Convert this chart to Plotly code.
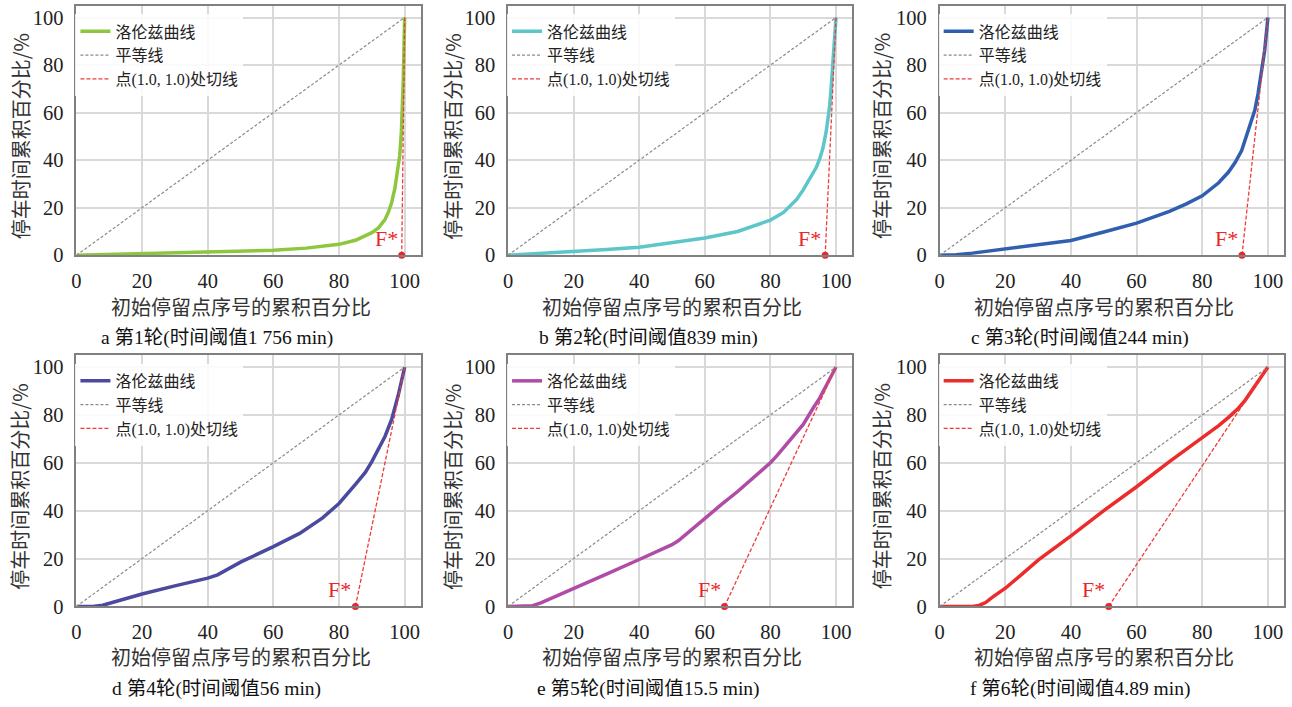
import plotly.graph_objects as go

W, H = 1292, 707

# ---------------- data ----------------
x_a = [0, 10, 20, 30, 40, 50, 60, 70, 80, 85, 88, 90, 92, 94, 95, 96, 97, 97.5, 98, 98.5, 99, 99.3, 99.6, 99.8, 100]
y_a = [0, 0.3, 0.6, 0.9, 1.2, 1.6, 2.1, 3.0, 4.6, 6.3, 8, 9.5, 11.5, 15, 18, 22, 28, 32, 37, 42, 52, 60, 75, 88, 100]

x_b = [0, 10, 20, 30, 40, 50, 60, 70, 80, 84, 86, 88, 90, 92, 94, 95, 96, 97, 97.5, 98, 98.5, 99, 99.5, 100]
y_b = [0, 0.7, 1.6, 2.4, 3.4, 5.2, 7.3, 10, 14.8, 18, 20.5, 23.5, 27.5, 32, 37, 40.5, 45, 52, 57, 62, 70, 80, 90, 100]

x_c = [0, 5, 10, 15, 20, 30, 40, 50, 60, 70, 75, 80, 85, 88, 90, 92, 94, 96, 97, 98, 99, 100]
y_c = [0, 0.2, 0.9, 1.8, 2.7, 4.5, 6.2, 9.8, 13.5, 18.5, 21.5, 25, 30.5, 35, 39, 44, 52, 61, 68, 76, 86, 100]

x_d = [0, 5, 8, 20, 30, 40, 43, 50, 60, 68, 75, 80, 85, 88, 90, 92, 94, 96, 98, 100]
y_d = [0, 0, 0.5, 5.2, 8.6, 11.8, 13.2, 18.5, 25, 30.5, 37, 43, 51, 56, 60.5, 65.5, 71, 78, 88, 100]

x_e = [0, 5, 7.5, 10, 20, 30, 40, 45, 50, 52, 55, 60, 65, 70, 75, 80, 82, 85, 90, 93, 95, 100]
y_e = [0, 0, 0.3, 1.5, 7.7, 13.5, 19.6, 22.7, 25.8, 27.5, 31, 36.8, 42.5, 48, 54, 60, 63, 68, 76, 82.8, 87, 100]

x_f = [0, 5, 10, 12, 14, 16, 20, 25, 30, 40, 50, 60, 70, 80, 85, 88, 91, 93, 95, 97, 100]
y_f = [0, 0, 0, 0.4, 1.6, 3.8, 7.6, 13.4, 19.3, 29.5, 40, 50, 60.5, 70.5, 75.5, 79, 82.8, 86, 90, 94, 100]

f_star = [99.1, 96.7, 92.1, 85.0, 66.0, 51.5]

captions = [
    "a 第1轮(时间阈值1 756 min)",
    "b 第2轮(时间阈值839 min)",
    "c 第3轮(时间阈值244 min)",
    "d 第4轮(时间阈值56 min)",
    "e 第5轮(时间阈值15.5 min)",
    "f 第6轮(时间阈值4.89 min)",
]
colors = ["#8dc63f", "#5cc6c8", "#2f5fae", "#4b4a9e", "#b04ca6", "#ec2b2b"]

legend_names = ["洛伦兹曲线", "平等线", "点(1.0, 1.0)处切线"]
tick_vals = [0, 20, 40, 60, 80, 100]
x_title = "初始停留点序号的累积百分比"
y_title = "停车时间累积百分比/%"

curves = [(x_a, y_a), (x_b, y_b), (x_c, y_c), (x_d, y_d), (x_e, y_e), (x_f, y_f)]

# ---------------- layout geometry (pixels) ----------------
cols_px = [(71.7, 417.7), (505.0, 850.7), (938.3, 1284.3)]
rows_px = [(5.7, 259.3), (360.7, 616.0)]
caption_x = [212.8, 646.3, 1079.3]
caption_y = [343.5, 699.5]
xtitle_y = [311.5, 667.0]
ytitle_x = [15.0, 449.0, 880.0]

FONT = "Liberation Serif, Noto Sans CJK SC, serif"
CJK = "Noto Sans CJK SC, sans-serif"
RED = "#f03a3a"

fig = go.Figure()
layout = dict(
    width=W, height=H,
    margin=dict(l=0, r=0, t=0, b=0),
    paper_bgcolor="white", plot_bgcolor="white",
    font=dict(family=FONT, color="#222"),
    annotations=[],
)

def px_x(p):
    return p / W

def px_y(p):
    return 1 - p / H

for i in range(6):
    r, c = divmod(i, 3)
    n = i + 1
    xa = "x" if n == 1 else f"x{n}"
    ya = "y" if n == 1 else f"y{n}"
    lg = "legend" if n == 1 else f"legend{n}"
    xs, ys = curves[i]
    F = f_star[i]

    fig.add_trace(go.Scatter(x=xs, y=ys, mode="lines", name=legend_names[0],
                             line=dict(color=colors[i], width=3.5),
                             xaxis=xa, yaxis=ya, legend=lg, cliponaxis=False))
    fig.add_trace(go.Scatter(x=[0, 100], y=[0, 100], mode="lines", name=legend_names[1],
                             line=dict(color="#8a8a8a", width=1.2, dash="3px,2px"),
                             xaxis=xa, yaxis=ya, legend=lg))
    fig.add_trace(go.Scatter(x=[F, 100], y=[0, 100], mode="lines", name=legend_names[2],
                             line=dict(color=RED, width=1.3, dash="4px,2px"),
                             xaxis=xa, yaxis=ya, legend=lg))
    fig.add_trace(go.Scatter(x=[F], y=[0], mode="markers", showlegend=False,
                             marker=dict(color="#e8272a", size=7),
                             xaxis=xa, yaxis=ya, cliponaxis=False))

    x0, x1 = cols_px[c]
    y0, y1 = rows_px[r]
    axis_common = dict(
        range=[0, 105], tickvals=tick_vals, showgrid=True, gridcolor="#d9d9d9", gridwidth=1.5,
        zeroline=False, showline=True, linecolor="#808080", linewidth=1.5, mirror=True,
        ticks="", tickfont=dict(family=FONT, size=20.5, color="#222"),
    )
    layout["xaxis" if n == 1 else f"xaxis{n}"] = dict(
        axis_common, domain=[px_x(x0), px_x(x1)], anchor=ya, ticklabelstandoff=6)
    layout["yaxis" if n == 1 else f"yaxis{n}"] = dict(
        axis_common, domain=[px_y(y1), px_y(y0)], anchor=xa, ticklabelstandoff=7)

    layout[lg] = dict(
        x=px_x(x0 - 1), y=px_y(y0 + 9), xanchor="left", yanchor="top",
        bgcolor="rgba(255,255,255,0.85)", borderwidth=0,
        font=dict(family=FONT, size=16, color="#222"),
        tracegroupgap=0, itemwidth=30,
    )

    anns = layout["annotations"]
    anns.append(dict(text="F*", x=F, y=0, xref=xa, yref=ya, xanchor="right", yanchor="bottom",
                     xshift=-2, yshift=2, showarrow=False,
                     font=dict(family=FONT, size=22, color="#e8272a")))
    anns.append(dict(text=x_title, x=50, y=px_y(xtitle_y[r]), xref=xa, yref="paper",
                     xanchor="center", yanchor="middle", showarrow=False,
                     font=dict(family=CJK, size=20, color="#333")))
    anns.append(dict(text=y_title, x=px_x(ytitle_x[c]), y=50, xref="paper", yref=ya,
                     xanchor="center", yanchor="middle", textangle=-90, showarrow=False,
                     font=dict(family=CJK, size=20, color="#333")))
    anns.append(dict(text=captions[i], x=px_x(caption_x[c]), y=px_y(caption_y[r]),
                     xref="paper", yref="paper", xanchor="center", yanchor="middle",
                     showarrow=False, font=dict(family=FONT, size=19.5, color="#111")))

fig.update_layout(**layout)
fig.write_html("out.html")
